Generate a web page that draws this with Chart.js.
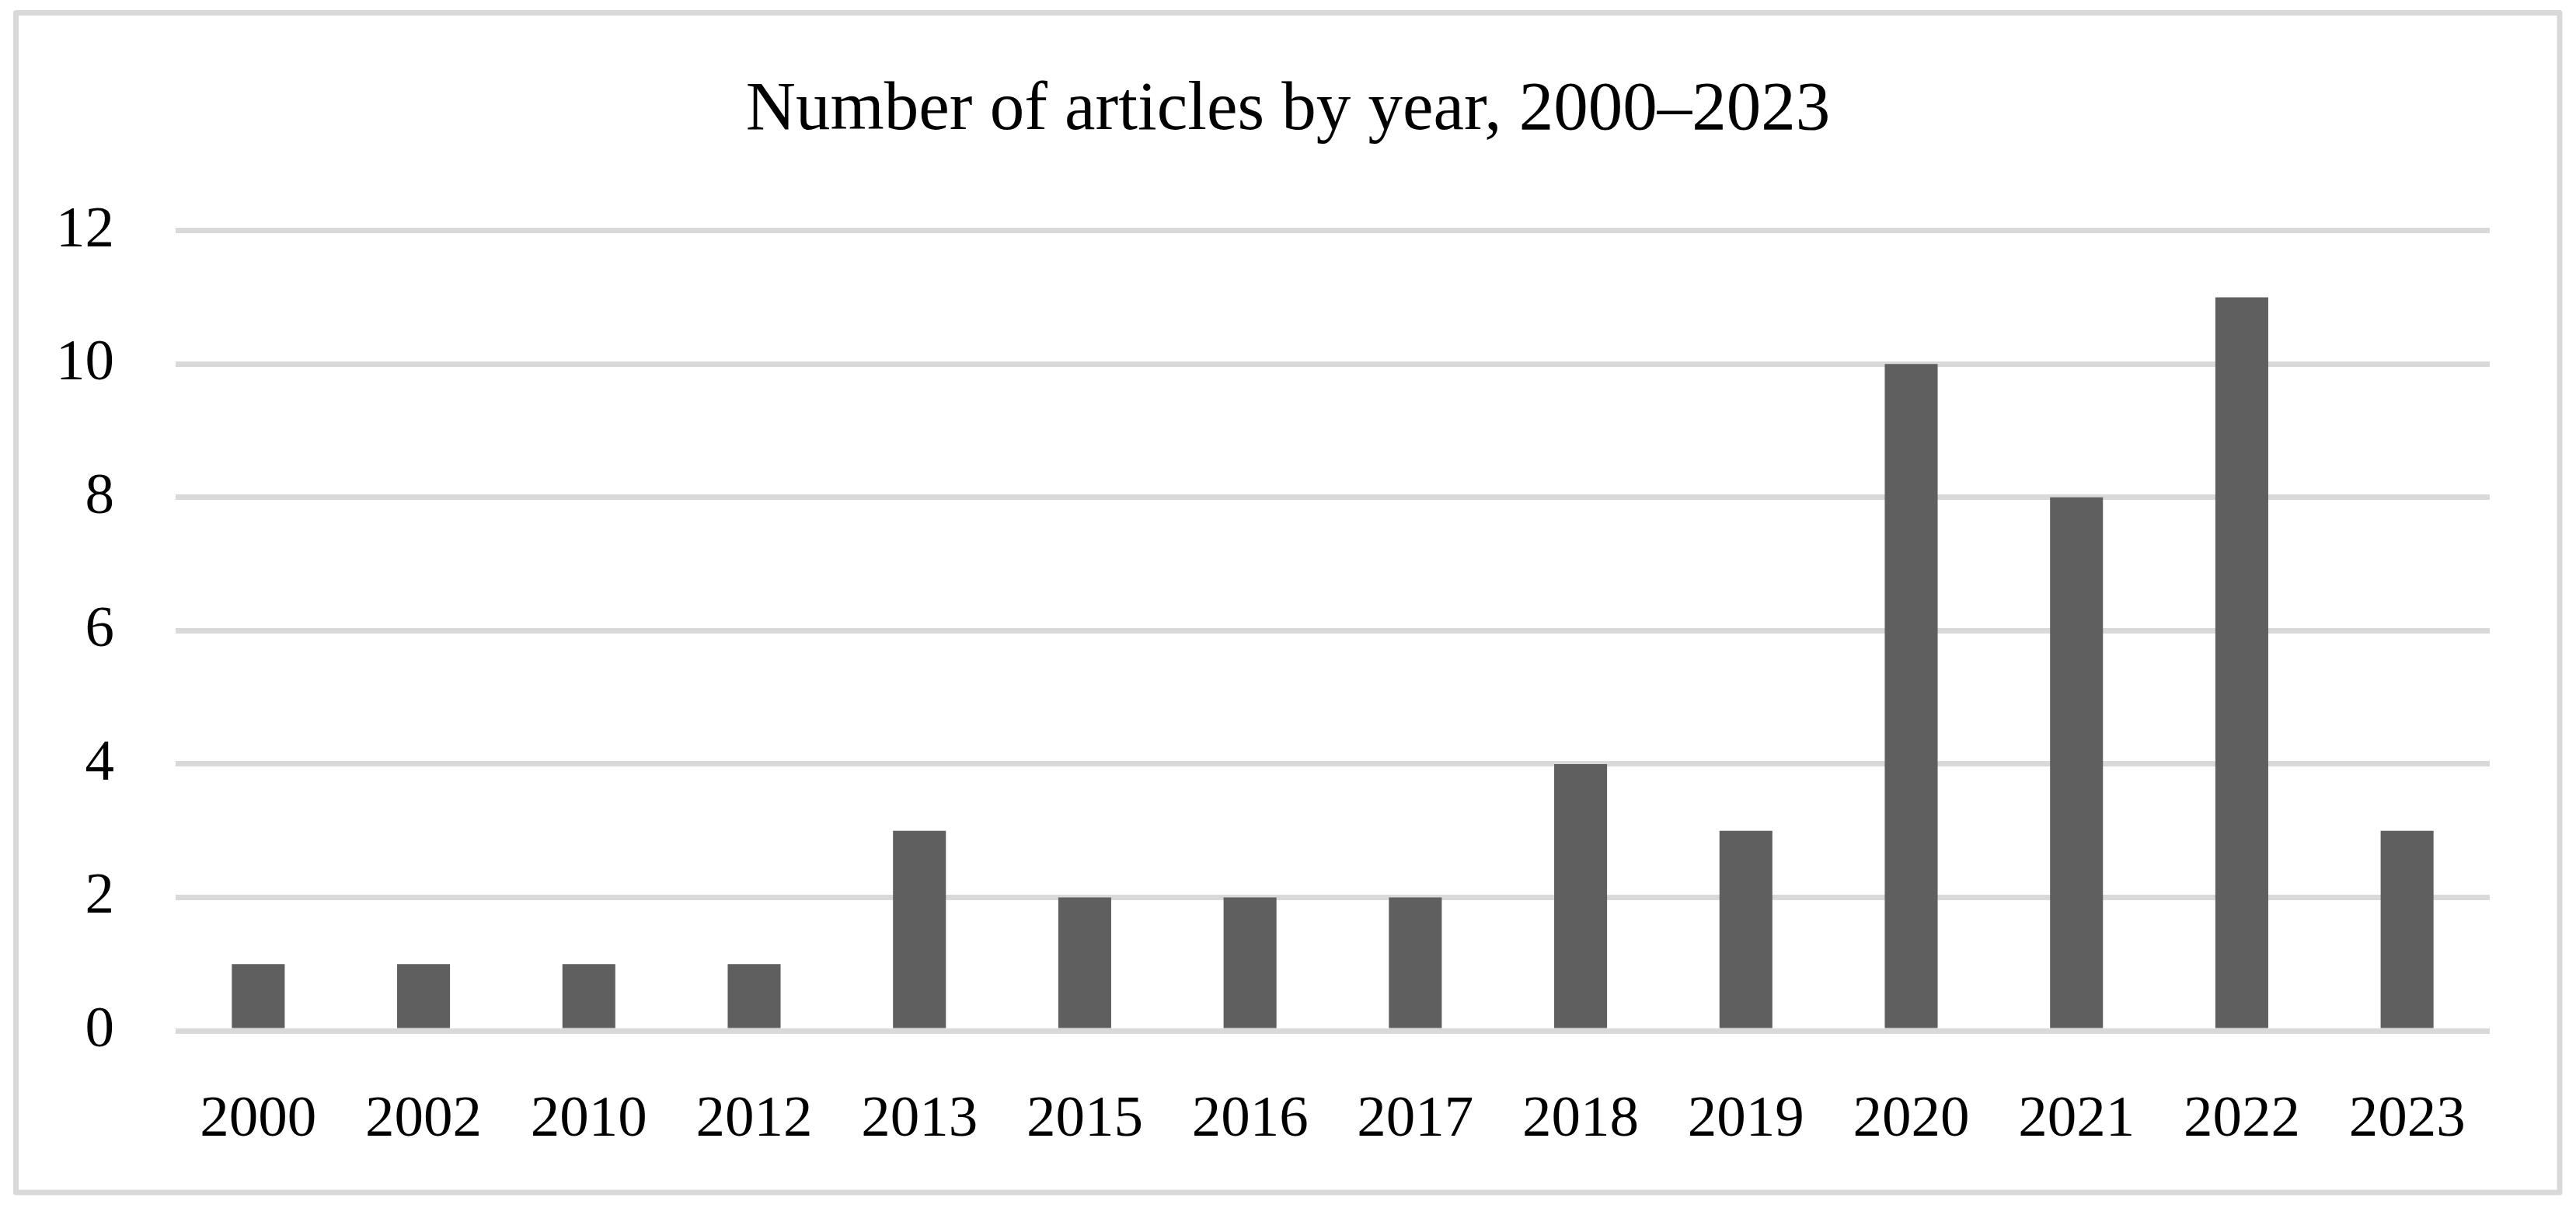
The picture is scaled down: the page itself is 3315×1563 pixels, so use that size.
<!DOCTYPE html>
<html>
<head>
<meta charset="utf-8">
<script src="https://cdn.jsdelivr.net/npm/chart.js@4"></script>
<style>
  html, body { margin: 0; padding: 0; background: #fff; }
  #wrap { width: 3315px; height: 1563px; }
</style>
</head>
<body>
<div id="wrap"><canvas id="chart" width="3315" height="1563"></canvas></div>
<script>
'use strict';

var years = ['2000', '2002', '2010', '2012', '2013', '2015', '2016', '2017', '2018', '2019', '2020', '2021', '2022', '2023'];
var articles = [1, 1, 1, 1, 3, 2, 2, 2, 4, 3, 10, 8, 11, 3];
var yTicks = [0, 2, 4, 6, 8, 10, 12];

var FONT = '"Liberation Serif", "Times New Roman", serif';

// light grey frame round the whole figure, title centred on it
var framePlugin = {
    id: 'frame',
    afterLayout: function(chart) {
        var t = chart.titleBlock;
        if (t) {
            t.left = 0;
            t.right = chart.width;
            t.width = chart.width;
        }
    },
    beforeDraw: function(chart) {
        var ctx = chart.ctx;
        ctx.save();
        ctx.fillStyle = '#ffffff';
        ctx.fillRect(0, 0, chart.width, chart.height);
        ctx.strokeStyle = '#d9d9d9';
        ctx.lineWidth = 7;
        ctx.lineJoin = 'round';
        ctx.strokeRect(20.5, 16.5, chart.width - 41.5, chart.height - 45.5);
        ctx.restore();
    }
};

new Chart(document.getElementById('chart'), {
    type: 'bar',
    data: {
        labels: years,
        datasets: [{
            data: articles,
            backgroundColor: '#5f5f5f',
            borderWidth: 0,
            categoryPercentage: 1,
            barPercentage: 0.32
        }]
    },
    options: {
        responsive: false,
        animation: false,
        devicePixelRatio: 1,
        layout: { padding: { left: 0, right: 111, top: 0, bottom: 0 } },
        plugins: {
            legend: { display: false },
            tooltip: { enabled: false },
            title: {
                display: true,
                text: 'Number of articles by year, 2000\u20132023',
                color: '#000',
                font: { family: FONT, size: 89, weight: 'normal', lineHeight: 1.2 },
                padding: { top: 89, bottom: 101 }
            }
        },
        scales: {
            x: {
                grid: { display: false, drawTicks: false },
                border: { display: false },
                ticks: {
                    color: '#000',
                    font: { family: FONT, size: 75 },
                    padding: 70,
                    maxRotation: 0,
                    autoSkip: false
                },
                afterFit: function(scale) { scale.height = 237; }
            },
            y: {
                min: 0,
                max: 12,
                afterBuildTicks: function(scale) {
                    scale.ticks = yTicks.map(function(v) { return { value: v }; });
                },
                grid: { color: '#d9d9d9', lineWidth: 7, drawTicks: false },
                border: { display: false },
                ticks: {
                    color: '#000',
                    font: { family: FONT, size: 75 },
                    padding: 79
                },
                afterFit: function(scale) { scale.width = 226; }
            }
        }
    },
    plugins: [framePlugin]
});
</script>
</body>
</html>
